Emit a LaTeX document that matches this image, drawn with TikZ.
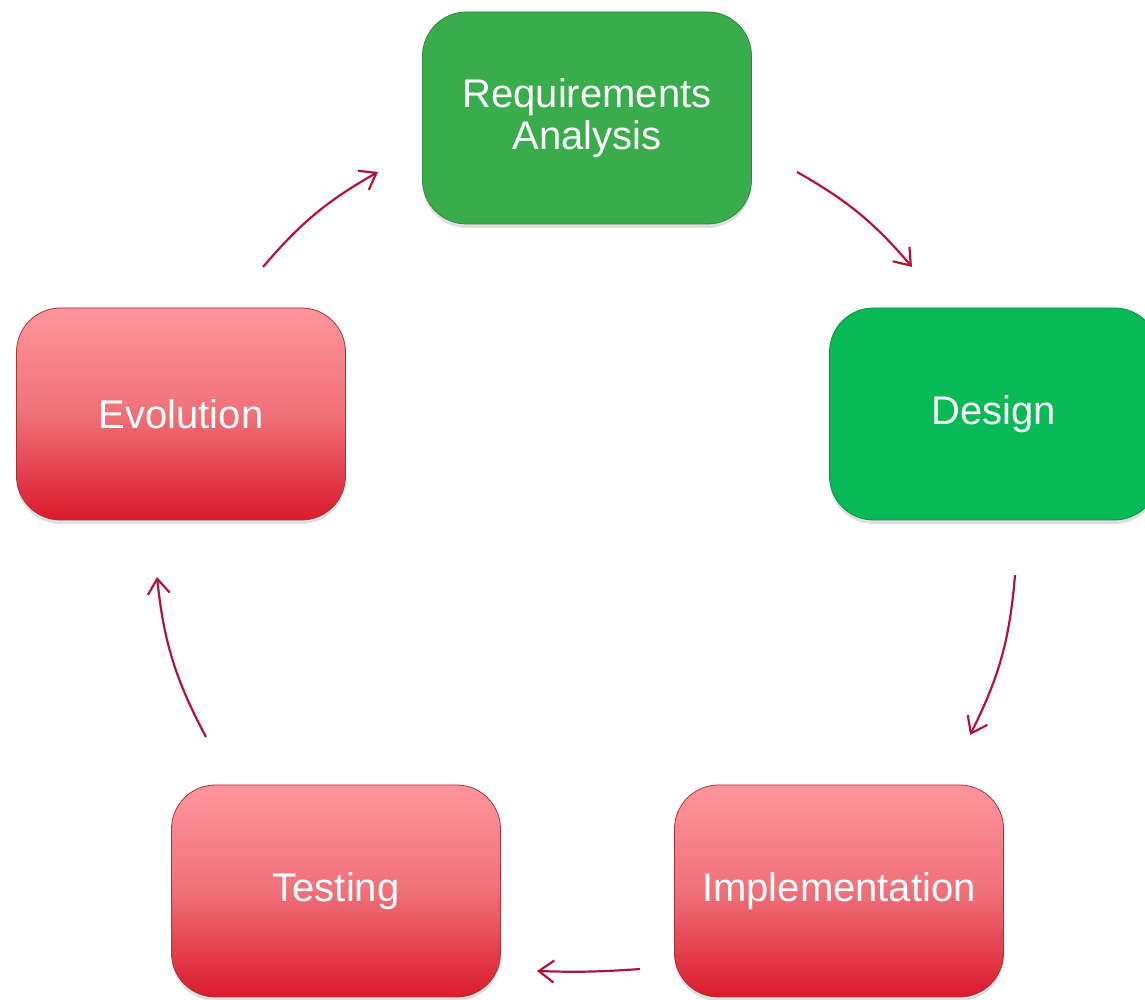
\documentclass[tikz,border=0pt]{standalone}
\usepackage{fontspec}
\setmainfont{Liberation Sans}
\usetikzlibrary{arrows.meta,shadows}
\definecolor{raGreen}{HTML}{39AC4B}
\definecolor{raEdge}{HTML}{2C8A3B}
\definecolor{dsGreen}{HTML}{07BA55}
\definecolor{dsEdge}{HTML}{05914A}
\definecolor{pinkTop}{HTML}{FF959D}
\definecolor{pinkMid}{HTML}{F07078}
\definecolor{redBot}{HTML}{DA1A2C}
\definecolor{redEdge}{HTML}{A8323C}
\definecolor{arrowRed}{HTML}{B0143C}
\tikzset{
  phase/.style={rounded corners=44pt, minimum width=329pt, minimum height=212pt,
    text=white, align=center, font=\fontsize{40}{42}\selectfont, line width=0.8pt,
    drop shadow={opacity=0.25, shadow xshift=0pt, shadow yshift=-4pt}},
  greenbox/.style={phase, fill=raGreen, draw=raEdge},
  designbox/.style={phase, fill=dsGreen, draw=dsEdge},
  redbox/.style={phase, draw=redEdge, top color=pinkTop, bottom color=redBot, middle color=pinkMid},
  cyc/.style={draw=arrowRed, line width=2.2pt, -{Straight Barb[length=15pt,width=22pt,line width=2.2pt]}}
}
\begin{document}
\begin{tikzpicture}[x=1pt,y=1pt]
\useasboundingbox (0,0) rectangle (1145,1000);
\node[greenbox] (ra) at (587,882) {Requirements\\Analysis};
\node[designbox] (ds) at (994,586) {Design};
\node[redbox] (ev) at (181,586) {Evolution};
\node[redbox] (ts) at (336,109) {Testing};
\node[redbox] (im) at (839,109) {Implementation};
\coordinate (a1s) at (797,828); \coordinate (a1e) at (912,733);
\coordinate (a2s) at (1015,425); \coordinate (a2e) at (970,265);
\coordinate (a3s) at (640,31); \coordinate (a3e) at (537,29);
\coordinate (a4s) at (206,263); \coordinate (a4e) at (157,423);
\coordinate (a5s) at (263,733); \coordinate (a5e) at (378,828);
\draw[cyc] (a1s) to[bend left=10] (a1e);
\draw[cyc] (a2s) to[bend left=11] (a2e);
\draw[cyc] (a3s) to[bend left=3] (a3e);
\draw[cyc] (a4s) to[bend left=11] (a4e);
\draw[cyc] (a5s) to[bend left=10] (a5e);
\end{tikzpicture}
\end{document}
